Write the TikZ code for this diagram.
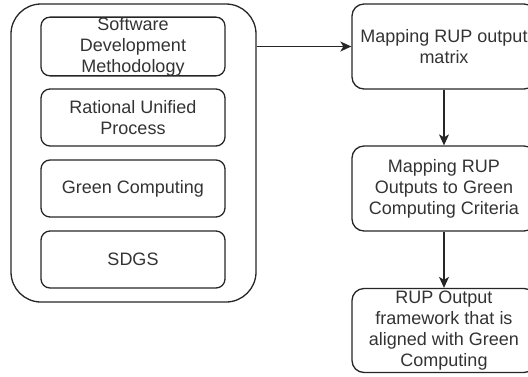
\documentclass[tikz,border=0pt]{standalone}
\usepackage{fontspec}
\setmainfont{Liberation Sans}
\usetikzlibrary{arrows.meta}

\tikzset{
  box/.style={draw=black!85, line width=1.3pt, rounded corners=9pt,
    minimum width=184pt, minimum height=57pt, inner sep=0pt,
    align=center, text=black!80,
    font=\fontsize{18pt}{21pt}\selectfont},
  stepbox/.style={box, minimum height=85pt, rounded corners=12pt},
  frame/.style={draw=black!85, line width=1.3pt, rounded corners=30pt,
    minimum width=245pt, minimum height=298pt, inner sep=0pt},
  link/.style={draw=black!85, line width=1.3pt,
    -{Stealth[length=11pt, width=10pt, inset=3pt]}}
}

\begin{document}
\begin{tikzpicture}[x=1pt, y=-1pt]
  \useasboundingbox (0,0) rectangle (528,376);
  \clip (0,0) rectangle (528,376);

  % grouped inputs
  \node[frame] (group) at (133.5,153) {};
  \node[box] (sdm) at (133,46.5) {Software\\Development\\Methodology};
  \node[box] (rup) at (133,117.5) {Rational Unified\\Process};
  \node[box] (green) at (133,188.5) {Green Computing};
  \node[box] (sdgs) at (133,259.5) {SDGS};

  % process chain
  \node[stepbox] (matrix) at (444,46.5) {Mapping RUP output\\matrix};
  \node[stepbox] (criteria) at (444,188.5) {Mapping RUP\\Outputs to Green\\Computing Criteria};
  \node[stepbox, minimum height=84pt] (result) at (444,330.5) {RUP Output\\framework that is\\aligned with Green\\Computing};

  % connectors
  \draw[link] (group.east |- matrix.west) -- (matrix.west);
  \draw[link] (matrix.south) -- (criteria.north);
  \draw[link] (criteria.south) -- (result.north);
\end{tikzpicture}
\end{document}
